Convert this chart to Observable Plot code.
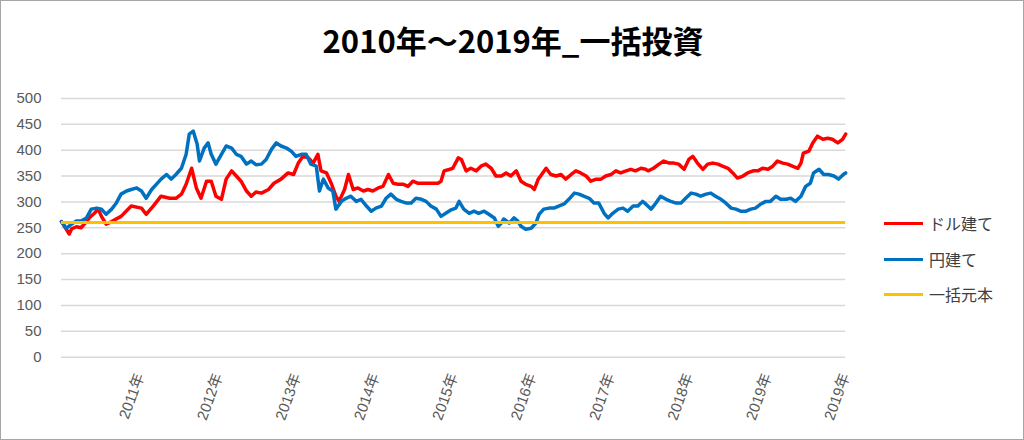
<!DOCTYPE html>
<html>
<head>
<meta charset="utf-8">
<script src="https://cdn.jsdelivr.net/npm/d3@7"></script>
<script src="https://cdn.jsdelivr.net/npm/@observablehq/plot@0.6"></script>
<style>
  html, body { margin: 0; padding: 0; background: #fff; }
  #wrap { position: relative; width: 1024px; height: 440px; box-sizing: border-box; border: 1px solid #a6a6a6; overflow: hidden; background: #fff; }
  #title { position: absolute; left: 0; top: 22px; width: 1024px; text-align: center; font: bold 31px "Noto Sans CJK JP", sans-serif; line-height: 34px; color: #000; }
  #chart { position: absolute; left: -1px; top: -1px; }
  .leg { position: absolute; left: 883px; display: flex; align-items: center; font: 16px "Noto Sans CJK JP", sans-serif; color: #404040; line-height: 20px; }
  .leg .sw { width: 39px; height: 3px; margin-right: 6px; }
</style>
</head>
<body>
<div id="wrap">
  <div id="title">2010年～2019年_一括投資</div>
  <div id="chart"></div>
  <div id="legend"></div>
</div>
<script>
// ---- data ----
const seriesNames = ["ドル建て", "円建て", "一括元本"];
const seriesColors = ["#FF0000", "#0070C0", "#FFC000"];
const principal = 260;
const yTicks = [0, 50, 100, 150, 200, 250, 300, 350, 400, 450, 500];
const xTicks = [2011, 2012, 2013, 2014, 2015, 2016, 2017, 2018, 2019, 2019.997];

const dollarSeries = [
[2010.00,262],[2010.10,238],[2010.13,248],[2010.19,252],[2010.25,250],[2010.32,262],[2010.36,270],[2010.42,278],[2010.47,286],[2010.51,272],
[2010.57,257],[2010.64,262],[2010.76,272],[2010.89,292],[2011.02,288],[2011.08,276],[2011.17,292],[2011.27,311],[2011.38,307],[2011.46,307],
[2011.53,315],[2011.59,334],[2011.66,365],[2011.72,327],[2011.78,307],[2011.85,340],[2011.91,340],[2011.97,311],[2012.04,305],[2012.10,344],
[2012.17,360],[2012.23,350],[2012.29,340],[2012.36,321],[2012.42,311],[2012.48,319],[2012.55,317],[2012.64,324],[2012.71,336],[2012.80,344],
[2012.89,356],[2012.96,353],[2013.02,375],[2013.08,388],[2013.15,385],[2013.21,375],[2013.27,392],[2013.31,360],[2013.38,356],[2013.44,336],
[2013.50,311],[2013.54,301],[2013.61,324],[2013.66,353],[2013.72,324],[2013.78,327],[2013.85,321],[2013.91,324],[2013.97,321],[2014.04,327],
[2014.10,330],[2014.17,353],[2014.23,336],[2014.29,334],[2014.36,334],[2014.42,330],[2014.48,340],[2014.55,336],[2014.61,336],[2014.68,336],
[2014.74,336],[2014.80,336],[2014.84,340],[2014.88,360],[2014.93,362],[2014.99,365],[2015.06,385],[2015.10,382],[2015.16,360],[2015.22,365],
[2015.29,360],[2015.35,369],[2015.41,373],[2015.48,365],[2015.54,350],[2015.61,350],[2015.67,356],[2015.73,350],[2015.80,360],[2015.86,340],
[2015.92,334],[2015.99,330],[2016.03,324],[2016.08,344],[2016.11,350],[2016.18,365],[2016.24,353],[2016.31,350],[2016.37,353],[2016.43,344],
[2016.50,353],[2016.56,360],[2016.62,356],[2016.69,350],[2016.75,340],[2016.82,344],[2016.88,344],[2016.94,350],[2017.01,353],[2017.07,360],
[2017.13,356],[2017.20,360],[2017.26,363],[2017.32,360],[2017.39,365],[2017.45,363],[2017.48,360],[2017.55,365],[2017.62,373],[2017.68,379],
[2017.75,375],[2017.81,375],[2017.87,373],[2017.94,363],[2018.00,382],[2018.05,388],[2018.11,375],[2018.18,363],[2018.24,373],[2018.31,375],
[2018.37,373],[2018.43,369],[2018.50,365],[2018.56,356],[2018.62,346],[2018.69,350],[2018.75,356],[2018.82,360],[2018.88,360],[2018.94,365],
[2019.01,363],[2019.07,369],[2019.13,379],[2019.20,375],[2019.26,373],[2019.32,369],[2019.39,365],[2019.43,375],[2019.46,394],[2019.53,398],
[2019.58,414],[2019.64,427],[2019.71,421],[2019.77,423],[2019.83,421],[2019.90,414],[2019.96,421],[2020.00,431]
];

const yenSeries = [
[2010.00,262],[2010.06,249],[2010.13,257],[2010.19,263],[2010.25,263],[2010.32,269],[2010.38,286],[2010.45,288],[2010.51,286],[2010.57,276],
[2010.64,286],[2010.70,298],[2010.76,315],[2010.83,321],[2010.89,324],[2010.96,327],[2011.02,321],[2011.08,307],[2011.15,324],[2011.21,334],
[2011.27,344],[2011.34,353],[2011.40,344],[2011.46,353],[2011.53,365],[2011.59,392],[2011.63,431],[2011.68,437],[2011.73,412],[2011.76,379],
[2011.82,404],[2011.87,414],[2011.91,392],[2011.97,373],[2012.04,392],[2012.10,408],[2012.17,404],[2012.23,392],[2012.29,388],[2012.36,373],
[2012.42,379],[2012.48,372],[2012.55,373],[2012.61,382],[2012.68,402],[2012.74,414],[2012.80,408],[2012.87,404],[2012.93,398],[2012.99,388],
[2013.06,392],[2013.12,392],[2013.18,373],[2013.25,369],[2013.29,321],[2013.34,344],[2013.40,327],[2013.46,321],[2013.50,286],[2013.57,301],
[2013.63,307],[2013.69,311],[2013.76,301],[2013.82,305],[2013.89,292],[2013.95,282],[2014.01,288],[2014.08,292],[2014.14,307],[2014.20,315],
[2014.27,305],[2014.33,301],[2014.39,298],[2014.46,298],[2014.52,307],[2014.59,305],[2014.65,301],[2014.71,292],[2014.78,286],[2014.84,272],
[2014.90,278],[2014.96,284],[2015.03,288],[2015.07,301],[2015.13,286],[2015.20,278],[2015.26,282],[2015.32,278],[2015.39,282],[2015.45,276],
[2015.52,269],[2015.57,253],[2015.61,259],[2015.64,267],[2015.71,259],[2015.77,269],[2015.82,263],[2015.86,253],[2015.92,247],[2015.99,249],
[2016.05,259],[2016.09,276],[2016.15,286],[2016.22,288],[2016.28,288],[2016.34,292],[2016.41,296],[2016.47,305],[2016.54,317],[2016.60,315],
[2016.66,311],[2016.73,307],[2016.79,298],[2016.85,298],[2016.92,278],[2016.97,269],[2017.03,278],[2017.10,286],[2017.16,288],[2017.22,282],
[2017.29,292],[2017.35,292],[2017.41,301],[2017.45,296],[2017.52,286],[2017.58,298],[2017.64,311],[2017.71,305],[2017.77,301],[2017.83,298],
[2017.90,298],[2017.96,307],[2018.03,317],[2018.09,315],[2018.15,311],[2018.22,315],[2018.28,317],[2018.34,311],[2018.41,305],[2018.47,298],
[2018.54,288],[2018.60,286],[2018.66,282],[2018.73,282],[2018.79,286],[2018.85,288],[2018.92,296],[2018.98,301],[2019.04,301],[2019.11,311],
[2019.17,305],[2019.24,305],[2019.30,307],[2019.36,301],[2019.43,311],[2019.49,330],[2019.55,336],[2019.59,356],[2019.66,363],[2019.72,353],
[2019.78,353],[2019.85,350],[2019.91,344],[2019.97,353],[2020.00,356]
];

// ---- chart ----
const tickFont = "'Liberation Sans', 'Noto Sans CJK JP', sans-serif";
const chart = Plot.plot({
  width: 1024,
  height: 440,
  marginLeft: 61,
  marginRight: 178,
  marginTop: 98,
  marginBottom: 83,
  style: { background: "transparent", fontFamily: tickFont, fontSize: "15px", color: "#595959" },
  x: { type: "linear", domain: [2010, 2020] },
  y: { domain: [0, 500] },
  marks: [
    Plot.gridY(yTicks, { stroke: "#d9d9d9", strokeOpacity: 1, strokeWidth: 1.5 }),
    Plot.axisY(yTicks, { tickSize: 0, tickPadding: 20, fontSize: 15, fill: "#595959", label: null }),
    Plot.axisX(xTicks, { tickSize: 0, tickPadding: 17, tickRotate: -70, fontSize: 15, fill: "#595959",
      tickFormat: d => Math.floor(d) + "年", label: null }),
    Plot.line(dollarSeries, { x: d => d[0], y: d => d[1], stroke: seriesColors[0], strokeWidth: 3.5, strokeLinejoin: "round" }),
    Plot.line(yenSeries, { x: d => d[0], y: d => d[1], stroke: seriesColors[1], strokeWidth: 3.5, strokeLinejoin: "round" }),
    Plot.ruleY([principal], { stroke: seriesColors[2], strokeWidth: 3 })
  ]
});
document.getElementById("chart").appendChild(chart);

// ---- legend ----
const legendTops = [212, 248, 283];
const legend = document.getElementById("legend");
seriesNames.forEach((name, i) => {
  const row = document.createElement("div");
  row.className = "leg";
  row.style.top = legendTops[i] + "px";
  const sw = document.createElement("span");
  sw.className = "sw";
  sw.style.background = seriesColors[i];
  const tx = document.createElement("span");
  tx.textContent = name;
  row.appendChild(sw);
  row.appendChild(tx);
  legend.appendChild(row);
});
</script>
</body>
</html>
